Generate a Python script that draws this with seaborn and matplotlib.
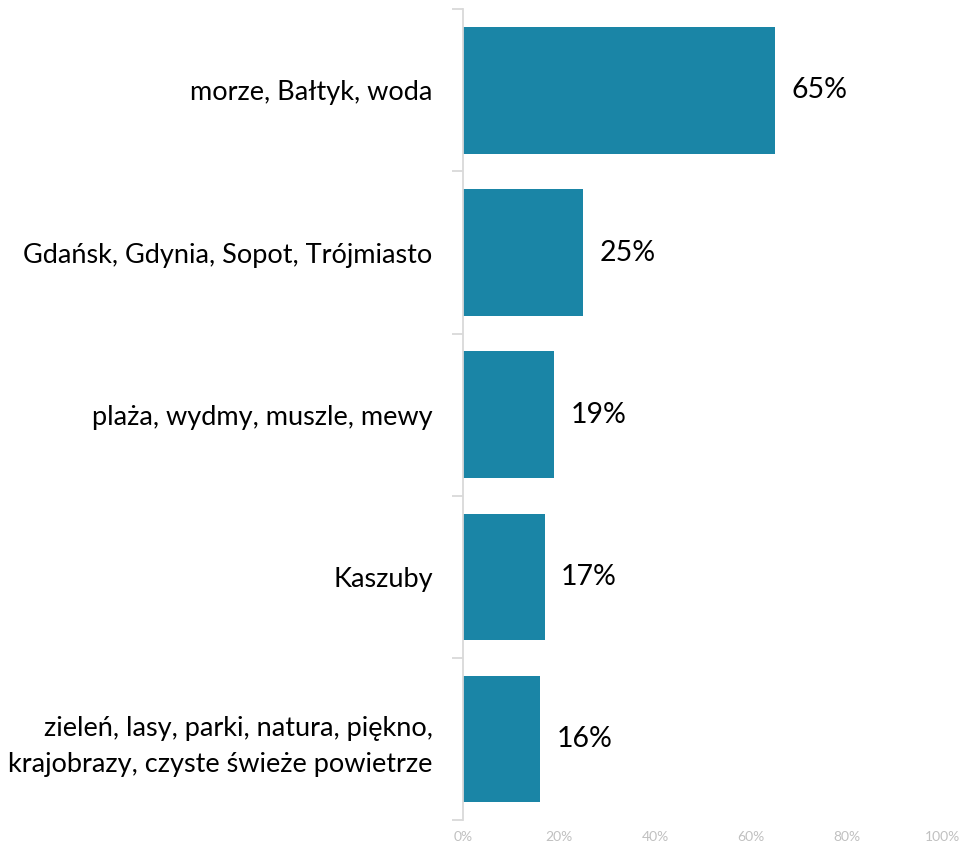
import matplotlib.pyplot as plt
import seaborn as sns
import pandas as pd
import numpy as np

categories = [
    "morze, Bałtyk, woda",
    "Gdańsk, Gdynia, Sopot, Trójmiasto",
    "plaża, wydmy, muszle, mewy",
    "Kaszuby",
    "zieleń, lasy, parki, natura, piękno,\nkrajobrazy, czyste świeże powietrze",
]
values = [65, 25, 19, 17, 16]
x_ticks = [0, 20, 40, 60, 80, 100]

df = pd.DataFrame({"kategoria": categories, "procent": values})

sns.set_style("white")
plt.rcParams["font.family"] = ["Lato", "DejaVu Sans"]

fig = plt.figure(figsize=(9.69, 8.48), dpi=100)
ax = fig.add_axes([0.478, 0.033, 0.495, 0.956])

sns.barplot(data=df, x="procent", y="kategoria", color="#1a85a6",
            width=0.78, saturation=1, linewidth=0, ax=ax)

for i, v in enumerate(values):
    ax.text(v + 3.4, i, f"{v}%", va="center", ha="left", fontsize=20.5, color="black")

ax.set_xlim(0, 100)
ax.set_ylim(4.5, -0.5)
ax.set_xticks(x_ticks)
ax.set_xticklabels([f"{t}%" for t in x_ticks], fontsize=10, color="#c0c0c0")
ax.tick_params(axis="x", length=0, pad=8)
ax.tick_params(axis="y", which="major", left=False, length=0, labelsize=19.5,
               labelcolor="black", pad=22)
for lbl in ax.get_yticklabels():
    lbl.set_linespacing(1.55)
ax.set_yticks(np.arange(-0.5, 5, 1), minor=True)
ax.tick_params(axis="y", which="minor", left=True, length=8, color="#d9d9d9", width=1.3)
ax.set_xlabel("")
ax.set_ylabel("")

for s in ["top", "right", "bottom"]:
    ax.spines[s].set_visible(False)
ax.spines["left"].set_color("#d9d9d9")
ax.spines["left"].set_linewidth(1.3)

fig.savefig("out.png", dpi=100)
